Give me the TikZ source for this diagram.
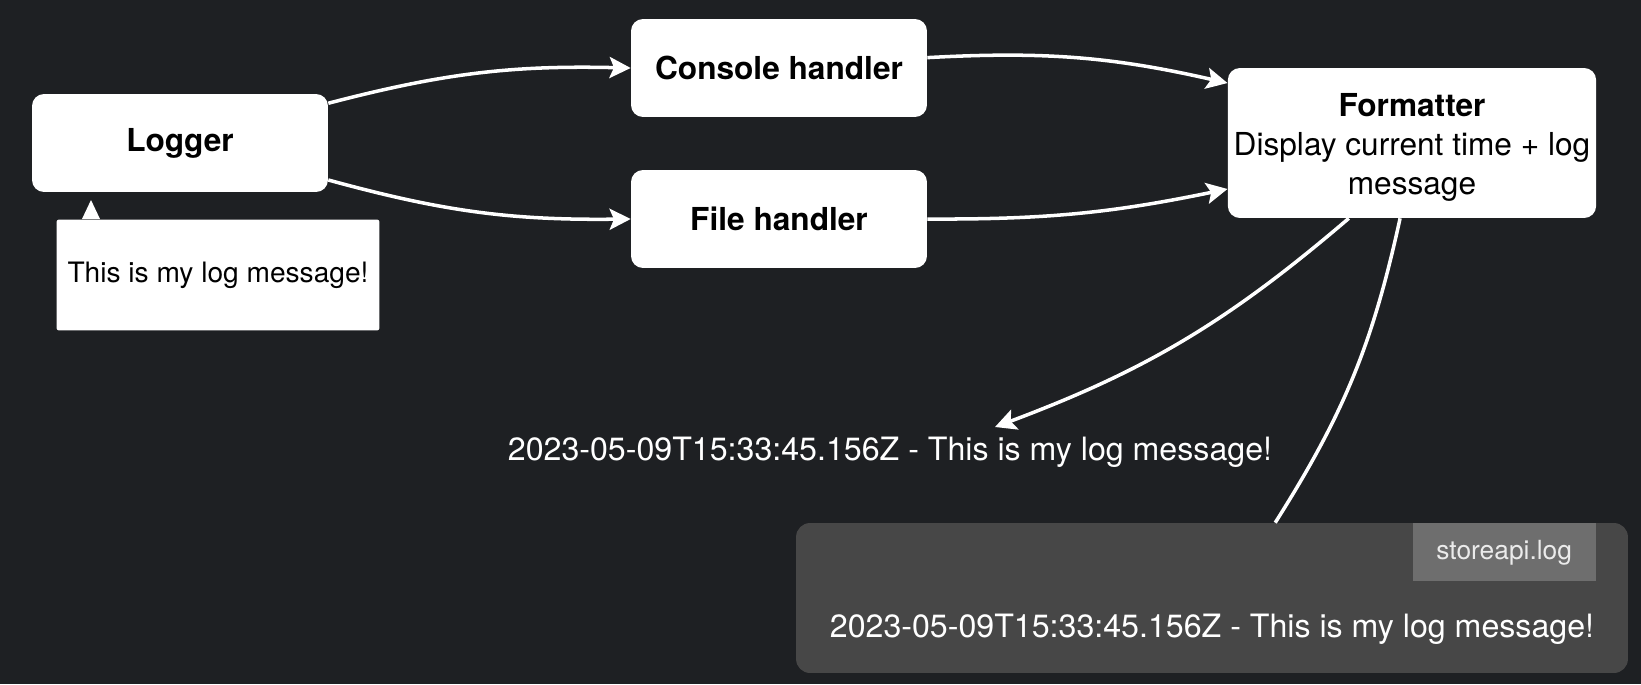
\documentclass[tikz,border=0pt]{standalone}
\usepackage{fontspec}
\setmainfont{TeX Gyre Heros}
\usepackage{tikz}
\usetikzlibrary{arrows.meta}
\definecolor{bg}{HTML}{1E2023}
\definecolor{logfill}{HTML}{474747}
\definecolor{tabfill}{HTML}{6E6E6E}
\definecolor{fg}{HTML}{FFFFFF}
\definecolor{ink}{HTML}{000000}
\tikzset{
  stage/.style={fill=white, rounded corners=0.24cm, text=ink, align=center,
    font=\bfseries\fontsize{18}{22}\selectfont, minimum width=5.92cm, minimum height=1.96cm},
  note/.style={fill=white, rounded corners=0.05cm, text=ink,
    font=\fontsize{16}{20}\selectfont, minimum width=6.46cm, minimum height=2.22cm},
  logbox/.style={fill=logfill, rounded corners=0.28cm, minimum width=16.64cm, minimum height=3cm},
  tab/.style={fill=tabfill, text=fg!92!black, font=\fontsize{15}{18}\selectfont,
    minimum width=3.66cm, minimum height=1.16cm, anchor=north east},
  flow/.style={draw=white, line width=2pt, -{Stealth[length=12pt,width=12pt,inset=2.5pt]}},
  link/.style={draw=white, line width=2pt},
  labw/.style={text=fg, font=\fontsize{18.3}{22}\selectfont}
}
\begin{document}
\begin{tikzpicture}[x=0.02cm, y=-0.02cm]
  \fill[bg] (0,0) rectangle (1641,684);
  \useasboundingbox (0,0) rectangle (1641,684);

  \node[stage] (logger) at (180,143) {Logger};
  \node[stage] (console) at (779,68) {Console handler};
  \node[stage] (file) at (779,219) {File handler};
  \node[stage, minimum width=7.32cm, minimum height=3cm, font=\fontsize{18}{22}\selectfont]
    (fmt) at (1412,143) {\rule{0pt}{18pt}\textbf{Formatter}\\Display current time + log\\message};

  % message bubble under the logger
  \node[note] (msg) at (218,275) {This is my log message!};
  \fill[white] (82,219) -- (91,200) -- (100,219) -- cycle;

  % outputs
  \node[labw] (out) at (890,452) {2023-05-09T15:33:45.156Z - This is my log message!};
  \coordinate (outtip) at (995,427);
  \node[logbox] (logfile) at (1212,598) {};
  \node[tab] (tabname) at (1596,523) {storeapi.log};
  \node[labw] (logline) at (1212,629) {2023-05-09T15:33:45.156Z - This is my log message!};

  \draw[flow] (logger.15) to[bend left=8] (console.west);
  \draw[flow] (logger.-14) to[bend right=8] (file.west);
  \draw[flow] (console.4) to[bend left=8] (fmt.162);
  \draw[flow] (file.east) to[bend right=6] (fmt.194);
  \draw[flow] (fmt.-130) to[bend left=10] (outtip);
  \draw[link] (fmt.-99) to[bend left=10] (logfile.50);
\end{tikzpicture}
\end{document}
